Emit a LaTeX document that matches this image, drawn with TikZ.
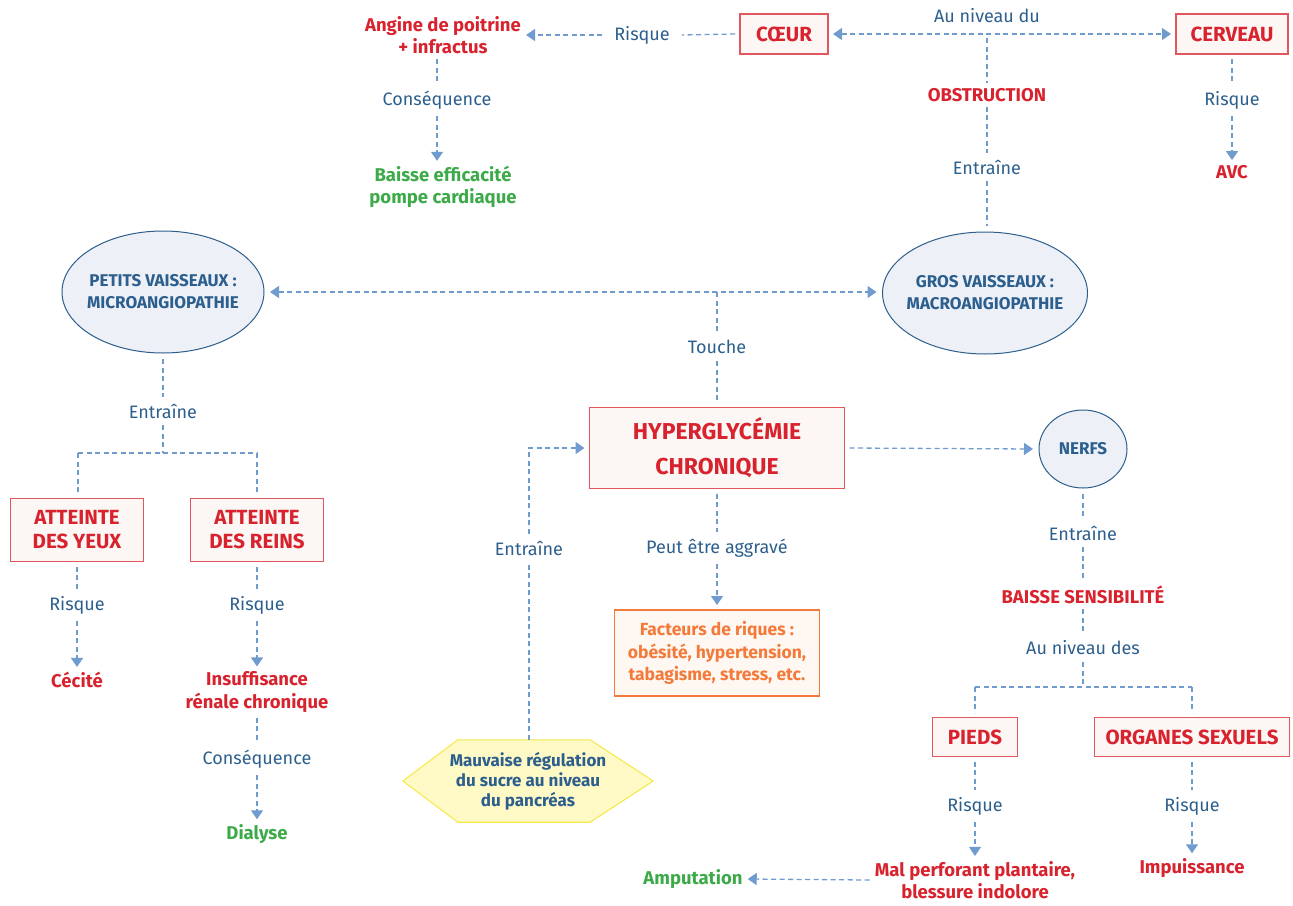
\documentclass[tikz,border=0pt]{standalone}
\usepackage{fontspec}
\setmainfont{Fira Sans}
\usetikzlibrary{arrows.meta,shapes.geometric}
\definecolor{tblue}{HTML}{2C5F8D}
\definecolor{lblue}{HTML}{6F9BCE}
\definecolor{tred}{HTML}{D8232F}
\definecolor{bred}{HTML}{E2575E}
\definecolor{bfill}{HTML}{FCF7F4}
\definecolor{tgreen}{HTML}{3CAA48}
\definecolor{torange}{HTML}{F37A3A}
\definecolor{ofill}{HTML}{FFF8F2}
\definecolor{efill}{HTML}{EDF1F7}
\definecolor{hfill}{HTML}{FFF9C6}
\definecolor{hborder}{HTML}{F5E94E}
\begin{document}
\begin{tikzpicture}[x=1pt,y=-1pt,
  lbl/.style={text=tblue, font=\fontsize{18}{20}\selectfont, inner xsep=12pt, inner ysep=7pt},
  freelbl/.style={text=tblue, font=\fontsize{18}{20}\selectfont, inner sep=2pt},
  redtxt/.style={text=tred, font=\fontsize{18.5}{22.5}\selectfont\bfseries, align=center, inner sep=5pt},
  greentxt/.style={text=tgreen, font=\fontsize{18.5}{22.5}\selectfont\bfseries, align=center, inner sep=5pt},
  redbox/.style={draw=bred, fill=bfill, line width=1.1pt, text=tred, font=\fontsize{20.5}{24}\selectfont\bfseries, align=center, outer sep=5pt, inner sep=0pt},
  ell/.style={ellipse, draw=tblue, fill=efill, line width=1pt, inner sep=0pt, outer sep=6pt},
  elltxt/.style={text=tblue, font=\fontsize{17}{22}\selectfont\bfseries, align=center, inner sep=0pt},
  conn/.style={draw=lblue, line width=1.3pt, dash pattern=on 5pt off 3.5pt},
  arr/.style={conn, -{Triangle[width=12pt,length=9pt]}},
  darr/.style={conn, {Triangle[width=12pt,length=9pt]}-{Triangle[width=12pt,length=9pt]}}
]
\useasboundingbox (0,0) rectangle (1293,905);

% ---------- top ----------
\node[redbox, minimum width=88pt, minimum height=40pt] (coeur) at (784,34) {CŒUR};
\node[redbox, minimum width=112pt, minimum height=40pt] (cerveau) at (1232,34) {CERVEAU};
\node[freelbl] (auniv) at (987,16) {Au niveau du};
\coordinate (j1) at (987,38);
\node[redtxt] (obstr) at (987,95) {OBSTRUCTION};
\node[lbl] (entr1) at (987,167) {Entraîne};
\node[lbl] (risk1) at (642,35) {Risque};
\node[redtxt] (angine) at (443,35) {Angine de poitrine\\+ infractus};
\node[lbl] (cons1) at (437,100) {Conséquence};
\node[greentxt] (baisse1) at (443,187) {Baisse efficacité\\pompe cardiaque};
\node[lbl] (risk2) at (1232,100) {Risque};
\node[redtxt] (avc) at (1232,172) {AVC};

% ---------- ellipses ----------
\node[ell, minimum width=202pt, minimum height=122pt] (petits) at (163,292) {};
\node[elltxt] at (petits.center) {PETITS VAISSEAUX :\\MICROANGIOPATHIE};
\node[ell, minimum width=205pt, minimum height=122pt] (gros) at (985,293) {};
\node[elltxt] at (gros.center) {GROS VAISSEAUX :\\MACROANGIOPATHIE};
\coordinate (j2) at (717,292);
\node[lbl] (touche) at (717,347) {Touche};

% ---------- center ----------
\node[redbox, minimum width=255pt, minimum height=81pt, font=\fontsize{23}{35}\selectfont\bfseries] (hyper) at (717,448) {HYPERGLYCÉMIE\\CHRONIQUE};
\node[ell, minimum width=88pt, minimum height=78pt] (nerfs) at (1083,449) {};
\node[elltxt] at (nerfs.center) {NERFS};
\node[lbl] (peut) at (717,548) {Peut être aggravé};
\node[draw=torange, fill=ofill, line width=1.1pt, text=torange, font=\fontsize{17.5}{22.5}\selectfont\bfseries, align=center, minimum width=205pt, minimum height=86pt, inner sep=0pt, outer sep=5pt] (fact) at (717,653) {Facteurs de riques :\\obésité, hypertension,\\tabagisme, stress, etc.};
\node[inner sep=0pt, minimum width=250pt, minimum height=82pt] (hex) at (528,781) {};
\fill[hfill, draw=hborder, line width=1.1pt] (hex.west) -- ([xshift=55pt]hex.north west) -- ([xshift=-63pt]hex.north east) -- (hex.east) -- ([xshift=-63pt]hex.south east) -- ([xshift=55pt]hex.south west) -- cycle;
\node[text=tblue, font=\fontsize{17}{20}\selectfont\bfseries, align=center] at (hex) {Mauvaise régulation\\du sucre au niveau\\du pancréas};
\node[lbl] (entr3) at (529,548) {Entraîne};
\coordinate (j4) at (529,448);

% ---------- right bottom ----------
\node[lbl] (entr2) at (1083,533) {Entraîne};
\node[redtxt] (baisse2) at (1083,595) {BAISSE SENSIBILITÉ};
\node[lbl] (auniv2) at (1083,648) {Au niveau des};
\coordinate (j3) at (1083,687);
\coordinate (j3l) at (975,687);
\coordinate (j3r) at (1192,687);
\node[redbox, minimum width=85pt, minimum height=39pt] (pieds) at (975,737) {PIEDS};
\node[redbox, minimum width=195pt, minimum height=39pt] (organes) at (1192,737) {ORGANES SEXUELS};
\node[lbl] (risk3) at (975,806) {Risque};
\node[lbl] (risk4) at (1192,806) {Risque};
\node[redtxt] (mal) at (975,880) {Mal perforant plantaire,\\blessure indolore};
\node[redtxt] (impuis) at (1192,868) {Impuissance};
\node[greentxt] (amput) at (693,879) {Amputation};

% ---------- left bottom ----------
\node[lbl] (entr4) at (163,411) {Entraîne};
\coordinate (j5) at (163,453);
\coordinate (j5l) at (78,453);
\coordinate (j5r) at (257,453);
\node[redbox, minimum width=133pt, minimum height=63pt] (yeux) at (77,530) {ATTEINTE\\DES YEUX};
\node[redbox, minimum width=133pt, minimum height=63pt] (reins) at (257,530) {ATTEINTE\\DES REINS};
\node[lbl] (risk5) at (77,605) {Risque};
\node[lbl] (risk6) at (257,605) {Risque};
\node[redtxt] (cecite) at (77,680) {Cécité};
\node[redtxt] (insuf) at (257,692) {Insuffisance\\rénale chronique};
\node[lbl] (cons2) at (257,759) {Conséquence};
\node[greentxt] (dialyse) at (257,834) {Dialyse};

% ---------- connectors ----------
\draw[conn] (coeur.west) -- (risk1.east);
\draw[arr] (risk1.west) -- (angine.east |- risk1.west);
\draw[darr] (coeur.east) -- (cerveau.west);
\draw[conn] (j1) -- (obstr.north);
\draw[conn] (obstr.south) -- (entr1.north);
\draw[conn] (entr1.south) -- (entr1 |- gros.north);
\draw[conn] (cons1 |- angine.south) -- (cons1.north);
\draw[arr] (cons1.south) -- (cons1 |- baisse1.north);
\draw[conn] (cerveau.south) -- (risk2.north);
\draw[arr] (risk2.south) -- (avc.north);

\draw[darr] (petits.east) -- (petits.east -| gros.west);
\draw[conn] (j2) -- (touche.north);
\draw[conn] (touche.south) -- (hyper.north);
\draw[arr] (hyper.east) -- (nerfs.west);
\draw[conn] (hyper.south) -- (peut.north);
\draw[arr] (peut.south) -- (fact.north);
\draw[conn] (hex.north -| entr3) -- (entr3.south);
\draw[arr] (entr3.north) -- (j4) -- (hyper.west);

\draw[conn] (nerfs.south) -- (entr2.north);
\draw[conn] (entr2.south) -- (baisse2.north);
\draw[conn] (baisse2.south) -- (auniv2.north);
\draw[conn] (auniv2.south) -- (j3);
\draw[conn] (j3l) -- (j3r);
\draw[conn] (j3l) -- (pieds.north);
\draw[conn] (j3r) -- (organes.north);
\draw[conn] (pieds.south) -- (risk3.north);
\draw[arr] (risk3.south) -- (mal.north);
\draw[conn] (organes.south) -- (risk4.north);
\draw[arr] (risk4.south) -- (impuis.north);
\draw[arr] (mal.west) -- (amput.east);

\draw[conn] (petits.south) -- (entr4.north);
\draw[conn] (entr4.south) -- (j5);
\draw[conn] (j5l) -- (j5r);
\draw[conn] (j5l) -- (j5l |- yeux.north);
\draw[conn] (j5r) -- (reins.north);
\draw[conn] (yeux.south) -- (risk5.north);
\draw[arr] (risk5.south) -- (cecite.north);
\draw[conn] (reins.south) -- (risk6.north);
\draw[arr] (risk6.south) -- (insuf.north);
\draw[conn] (insuf.south) -- (cons2.north);
\draw[arr] (cons2.south) -- (dialyse.north);
\end{tikzpicture}
\end{document}
